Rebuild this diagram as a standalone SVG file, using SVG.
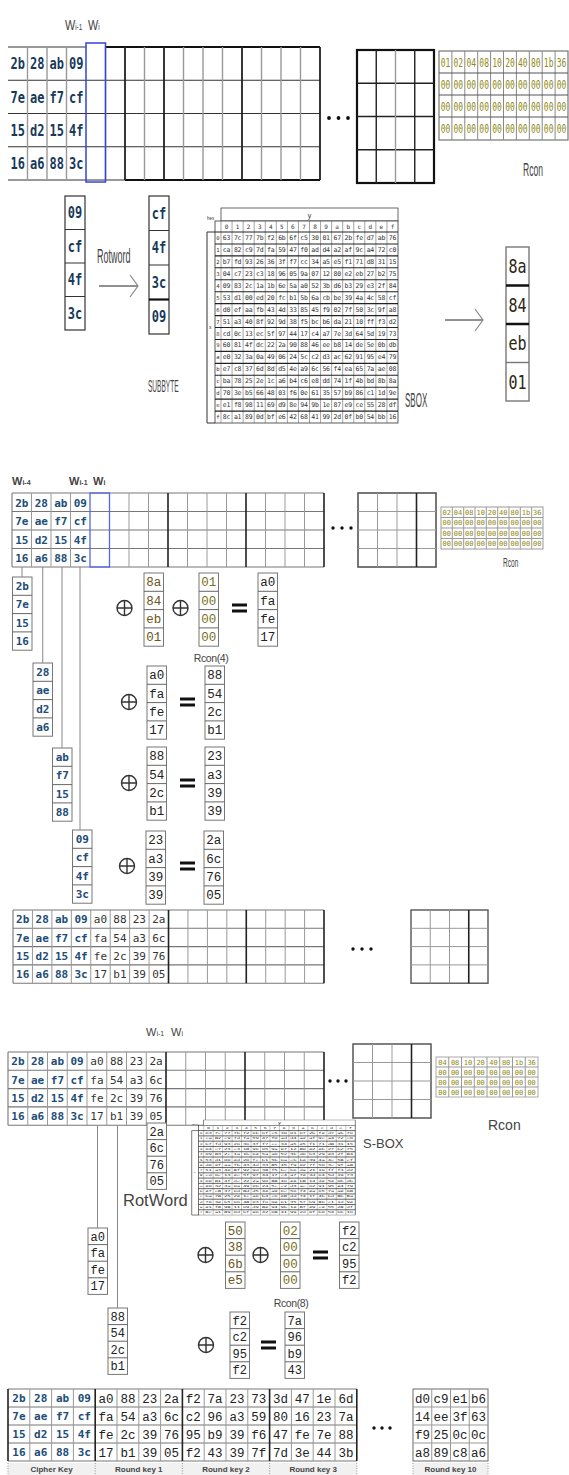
<svg xmlns="http://www.w3.org/2000/svg" width="569" height="1475" viewBox="0 0 569 1475">
<style>
.k1{font-family:"DejaVu Sans Mono",monospace;font-weight:bold;font-size:12px;fill:#17395a;text-anchor:middle}
.k{font-family:"DejaVu Sans Mono",monospace;font-weight:bold;font-size:11px;fill:#1d4d78;text-anchor:middle}
.d{font-family:"Liberation Mono",monospace;font-size:12.5px;fill:#222;text-anchor:middle}
.ds{font-family:"Liberation Mono",monospace;font-size:12px;fill:#222;text-anchor:middle}
.dg{font-family:"DejaVu Sans Mono",monospace;font-size:11px;fill:#333;text-anchor:middle}
.o1{font-family:"Liberation Mono",monospace;font-size:12.5px;fill:#6a5418;text-anchor:middle}
.o2{font-family:"Liberation Mono",monospace;font-size:12.5px;fill:#77701e;text-anchor:middle}
.rc{font-family:"DejaVu Sans Mono",monospace;fill:#8f8a14;text-anchor:middle}
.lbl{font-family:"Liberation Sans",Arial,sans-serif;fill:#444}
.bx{fill:#fff;stroke:#777;stroke-width:1}
.bx1{fill:#fff;stroke:#333;stroke-width:1.2}
.ln{fill:none;stroke:#999;stroke-width:1}
.lm{fill:none;stroke:#666;stroke-width:1}
.dk{fill:none;stroke:#222;stroke-width:1.6}
.cn{fill:none;stroke:#888;stroke-width:1}
</style>
<defs>
<marker id="chev" markerWidth="10" markerHeight="24" refX="9" refY="12" orient="auto" markerUnits="userSpaceOnUse"><path d="M1 1L9 12L1 23" fill="none" stroke="#888" stroke-width="1.2"/></marker>
<g id="xor"><circle r="7.5" fill="none" stroke="#333" stroke-width="1.4"/><path d="M-7.5 0H7.5M0-7.5V7.5" stroke="#333" stroke-width="1.4"/></g>
<g id="eq"><rect x="-7.5" y="-4.5" width="15" height="3" fill="#111"/><rect x="-7.5" y="1.5" width="15" height="3" fill="#111"/></g>
<g id="c2"><rect width="19.5" height="73.2" class="bx"/><path d="M0 18.3h19.5M0 36.6h19.5M0 54.9h19.5" class="lm"/></g>
<g id="c3"><rect width="19.5" height="66.4" class="bx"/><path d="M0 16.6h19.5M0 33.2h19.5M0 49.8h19.5" class="lm"/></g>
<g id="sbox">
<rect x="16" y="0" width="177" height="13" fill="#fff" stroke="#444" stroke-width="0.8"/>
<rect x="10" y="13" width="183" height="202" fill="#fff" stroke="#333" stroke-width="0.8"/>
<text x="104.5" y="9.5" font-size="7" text-anchor="middle" font-family="Liberation Sans" fill="#333">y</text>
<text x="2" y="12" font-size="4.5" font-family="Liberation Sans" fill="#333">hex</text>
<text x="4" y="121" font-size="5" font-family="Liberation Sans" fill="#333">x</text>
<path d="M10 24H2V215H10" fill="none" stroke="#333" stroke-width="1"/>
<path d="M16 13V215M27.06 13V215M38.13 13V215M49.19 13V215M60.25 13V215M71.31 13V215M82.38 13V215M93.44 13V215M104.5 13V215M115.56 13V215M126.63 13V215M137.69 13V215M148.75 13V215M159.81 13V215M170.88 13V215M181.94 13V215" fill="none" stroke="#666" stroke-width="0.6"/>
<path d="M10 24H193M10 35.94H193M10 47.88H193M10 59.82H193M10 71.76H193M10 83.7H193M10 95.64H193M10 107.58H193M10 119.52H193M10 131.46H193M10 143.4H193M10 155.34H193M10 167.28H193M10 179.22H193M10 191.16H193M10 203.1H193" fill="none" stroke="#222" stroke-width="1.1"/>
<text x="19.73" y="21" font-size="6" letter-spacing="7.45" font-family="DejaVu Sans Mono" fill="#333">0123456789abcdef</text>
<text font-size="5.5" text-anchor="middle" font-family="DejaVu Sans Mono" fill="#333"><tspan x="13" y="32">0</tspan><tspan x="13" y="43.94">1</tspan><tspan x="13" y="55.88">2</tspan><tspan x="13" y="67.82">3</tspan><tspan x="13" y="79.76">4</tspan><tspan x="13" y="91.7">5</tspan><tspan x="13" y="103.64">6</tspan><tspan x="13" y="115.58">7</tspan><tspan x="13" y="127.52">8</tspan><tspan x="13" y="139.46">9</tspan><tspan x="13" y="151.4">a</tspan><tspan x="13" y="163.34">b</tspan><tspan x="13" y="175.28">c</tspan><tspan x="13" y="187.22">d</tspan><tspan x="13" y="199.16">e</tspan><tspan x="13" y="211.1">f</tspan></text>
<text font-size="6.5" letter-spacing="-0.226" font-family="DejaVu Sans Mono" fill="#333"><tspan x="17.84" y="32">63 7c 77 7b f2 6b 6f c5 30 01 67 2b fe d7 ab 76</tspan><tspan x="17.84" y="43.94">ca 82 c9 7d fa 59 47 f0 ad d4 a2 af 9c a4 72 c0</tspan><tspan x="17.84" y="55.88">b7 fd 93 26 36 3f f7 cc 34 a5 e5 f1 71 d8 31 15</tspan><tspan x="17.84" y="67.82">04 c7 23 c3 18 96 05 9a 07 12 80 e2 eb 27 b2 75</tspan><tspan x="17.84" y="79.76">09 83 2c 1a 1b 6e 5a a0 52 3b d6 b3 29 e3 2f 84</tspan><tspan x="17.84" y="91.7">53 d1 00 ed 20 fc b1 5b 6a cb be 39 4a 4c 58 cf</tspan><tspan x="17.84" y="103.64">d0 ef aa fb 43 4d 33 85 45 f9 02 7f 50 3c 9f a8</tspan><tspan x="17.84" y="115.58">51 a3 40 8f 92 9d 38 f5 bc b6 da 21 10 ff f3 d2</tspan><tspan x="17.84" y="127.52">cd 0c 13 ec 5f 97 44 17 c4 a7 7e 3d 64 5d 19 73</tspan><tspan x="17.84" y="139.46">60 81 4f dc 22 2a 90 88 46 ee b8 14 de 5e 0b db</tspan><tspan x="17.84" y="151.4">e0 32 3a 0a 49 06 24 5c c2 d3 ac 62 91 95 e4 79</tspan><tspan x="17.84" y="163.34">e7 c8 37 6d 8d d5 4e a9 6c 56 f4 ea 65 7a ae 08</tspan><tspan x="17.84" y="175.28">ba 78 25 2e 1c a6 b4 c6 e8 dd 74 1f 4b bd 8b 8a</tspan><tspan x="17.84" y="187.22">70 3e b5 66 48 03 f6 0e 61 35 57 b9 86 c1 1d 9e</tspan><tspan x="17.84" y="199.16">e1 f8 98 11 69 d9 8e 94 9b 1e 87 e9 ce 55 28 df</tspan><tspan x="17.84" y="211.1">8c a1 89 0d bf e6 42 68 41 99 2d 0f b0 54 bb 16</tspan></text>
</g>
</defs>
<rect width="569" height="1475" fill="#fff"/>

<!-- ============ SECTION 1 ============ -->
<g id="s1-labels">
<text class="lbl" fill="#333" font-size="15" transform="translate(65,30) scale(0.72,1)">W<tspan font-size="9">i-1</tspan></text>
<text class="lbl" fill="#333" font-size="15" transform="translate(88,30) scale(0.72,1)">W<tspan font-size="9">i</tspan></text>
</g>
<g id="s1-grid">
<path d="M8 80.25H320M8 113.5H320M8 146.75H320M8 47H86M8 180H125" fill="none" stroke="#333" stroke-width="1.2"/>
<path d="M105.5 47H320M125 180H320" fill="none" stroke="#111" stroke-width="2"/>
<path d="M27.5 47V180M47 47V180M66.5 47V180M105.5 47V180M144.5 47V180M183.5 47V180M203 47V180M222.5 47V180M261.5 47V180M281 47V180M300.5 47V180" fill="none" stroke="#999" stroke-width="1.4"/>
<path d="M125 47V180M164 47V180M242 47V180M320 47V180" fill="none" stroke="#222" stroke-width="1.8"/>
<rect x="86" y="43" width="19.5" height="139" fill="none" stroke="#3344dd" stroke-width="1.5"/>
<text class="k1" transform="scale(1,1.3)" y="53.3"><tspan x="17.75">2b</tspan><tspan x="37.25">28</tspan><tspan x="56.75">ab</tspan><tspan x="76.25">09</tspan></text>
<text class="k1" transform="scale(1,1.3)" y="78.9"><tspan x="17.75">7e</tspan><tspan x="37.25">ae</tspan><tspan x="56.75">f7</tspan><tspan x="76.25">cf</tspan></text>
<text class="k1" transform="scale(1,1.3)" y="104.5"><tspan x="17.75">15</tspan><tspan x="37.25">d2</tspan><tspan x="56.75">15</tspan><tspan x="76.25">4f</tspan></text>
<text class="k1" transform="scale(1,1.3)" y="130.1"><tspan x="17.75">16</tspan><tspan x="37.25">a6</tspan><tspan x="56.75">88</tspan><tspan x="76.25">3c</tspan></text>
</g>
<g id="s1-dots" fill="#111"><circle cx="329" cy="118" r="1.9"/><circle cx="338.5" cy="118" r="1.9"/><circle cx="348" cy="118" r="1.9"/></g>
<g id="s1-grid2">
<rect x="357" y="50" width="77" height="133" fill="none" stroke="#111" stroke-width="2.2"/>
<path d="M357 83.25H434M357 116.5H434M357 149.75H434M376.25 50V183M414.75 50V183" fill="none" stroke="#222" stroke-width="1.4"/>
<path d="M395.5 50V183" fill="none" stroke="#999" stroke-width="1.4"/>
</g>
<g id="s1-rcon">
<rect x="439" y="51" width="129" height="89" fill="#fff" stroke="#777" stroke-width="1.2"/>
<path d="M451.9 51V140M464.8 51V140M477.7 51V140M490.6 51V140M503.5 51V140M516.4 51V140M529.3 51V140M542.2 51V140M555.1 51V140" fill="none" stroke="#888" stroke-width="1"/>
<path d="M439 73H568M439 95H568M439 117H568" fill="none" stroke="#555" stroke-width="1.2"/>
<text class="rc" font-size="8" transform="scale(1,1.6)" y="41.7"><tspan x="445.45">01</tspan><tspan x="458.35">02</tspan><tspan x="471.25">04</tspan><tspan x="484.15">08</tspan><tspan x="497.05">10</tspan><tspan x="509.95">20</tspan><tspan x="522.85">40</tspan><tspan x="535.75">80</tspan><tspan x="548.65">1b</tspan><tspan x="561.55">36</tspan></text>
<text class="rc" font-size="8" transform="scale(1,1.6)" y="55.4"><tspan x="445.45">00</tspan><tspan x="458.35">00</tspan><tspan x="471.25">00</tspan><tspan x="484.15">00</tspan><tspan x="497.05">00</tspan><tspan x="509.95">00</tspan><tspan x="522.85">00</tspan><tspan x="535.75">00</tspan><tspan x="548.65">00</tspan><tspan x="561.55">00</tspan></text>
<text class="rc" font-size="8" transform="scale(1,1.6)" y="69.2"><tspan x="445.45">00</tspan><tspan x="458.35">00</tspan><tspan x="471.25">00</tspan><tspan x="484.15">00</tspan><tspan x="497.05">00</tspan><tspan x="509.95">00</tspan><tspan x="522.85">00</tspan><tspan x="535.75">00</tspan><tspan x="548.65">00</tspan><tspan x="561.55">00</tspan></text>
<text class="rc" font-size="8" transform="scale(1,1.6)" y="83.25"><tspan x="445.45">00</tspan><tspan x="458.35">00</tspan><tspan x="471.25">00</tspan><tspan x="484.15">00</tspan><tspan x="497.05">00</tspan><tspan x="509.95">00</tspan><tspan x="522.85">00</tspan><tspan x="535.75">00</tspan><tspan x="548.65">00</tspan><tspan x="561.55">00</tspan></text>
<text class="lbl" fill="#666" font-size="19" transform="translate(523,176) scale(0.45,1)">Rcon</text>
</g>
<g id="s1-wordA">
<rect x="65" y="196" width="20" height="134" class="bx1"/>
<path d="M65 229.5H85M65 263H85M65 296.5H85" fill="none" stroke="#333" stroke-width="1.2"/>
<text class="k1" transform="scale(1,1.3)"><tspan x="75" y="168">09</tspan><tspan x="75" y="193.8">cf</tspan><tspan x="75" y="219.6">4f</tspan><tspan x="75" y="245.3">3c</tspan></text>
</g>
<g id="s1-rotword-label"><text class="lbl" fill="#555" font-size="20" transform="translate(97,263) scale(0.45,1)">Rotword</text></g>
<g id="s1-wordB">
<rect x="149" y="196" width="20" height="138" class="bx1"/>
<path d="M149 230.5H169M149 265H169" fill="none" stroke="#333" stroke-width="1.2"/>
<path d="M149 299.5H169" fill="none" stroke="#111" stroke-width="2.2"/>
<text class="k1" transform="scale(1,1.3)"><tspan x="159" y="168.4">cf</tspan><tspan x="159" y="195">4f</tspan><tspan x="159" y="221.5">3c</tspan><tspan x="159" y="248">09</tspan></text>
</g>
<g id="s1-sbox"><use href="#sbox" transform="translate(205,208)"/></g>
<g id="s1-subbyte-label"><text class="lbl" fill="#555" font-size="16" transform="translate(148,392) scale(0.41,1)">SUBBYTE</text></g>
<g id="s1-sbox-label"><text class="lbl" fill="#555" font-size="20" transform="translate(405,407) scale(0.4,1)">SBOX</text></g>
<g id="s1-wordC">
<rect x="506" y="247" width="23" height="154" fill="#fff" stroke="#777" stroke-width="1.4"/>
<path d="M506 285.5H529M506 324H529" fill="none" stroke="#111" stroke-width="2.4"/>
<path d="M506 362.5H529" fill="none" stroke="#777" stroke-width="1.4"/>
<text font-family="DejaVu Sans Mono,monospace" font-size="15" fill="#2c2612" text-anchor="middle" transform="scale(1,1.3)"><tspan x="517.5" y="210.2">8a</tspan><tspan x="517.5" y="239.8">84</tspan><tspan x="517.5" y="269.4">eb</tspan><tspan x="517.5" y="299">01</tspan></text>
</g>

<!-- ============ SECTION 2 ============ -->
<g id="s2-labels" font-weight="bold">
<text class="lbl" fill="#333" font-size="11" x="12" y="485">W<tspan font-size="7">i-4</tspan></text>
<text class="lbl" fill="#333" font-size="11" x="69" y="485">W<tspan font-size="7">i-1</tspan></text>
<text class="lbl" fill="#333" font-size="11" x="93" y="485">W<tspan font-size="7">i</tspan></text>
</g>
<g id="s2-grid">
<path d="M12 493H324M12 511.5H324M12 530H324M12 548.5H324M12 567H324M12 493V567" fill="none" stroke="#777" stroke-width="1.1"/>
<path d="M31.5 493V567M51 493V567M70.5 493V567M109.5 493V567M129 493V567M148.5 493V567M187.5 493V567M207 493V567M226.5 493V567M265.5 493V567M285 493V567M304.5 493V567" class="ln"/>
<path d="M168 493V567M246 493V567M324 493V567" class="dk"/>
<rect x="90" y="493" width="19.5" height="74" fill="none" stroke="#5566ee" stroke-width="1.3"/>
<text class="k" y="506.5"><tspan x="21.75">2b</tspan><tspan x="41.25">28</tspan><tspan x="60.75">ab</tspan><tspan x="80.25">09</tspan></text>
<text class="k" y="525"><tspan x="21.75">7e</tspan><tspan x="41.25">ae</tspan><tspan x="60.75">f7</tspan><tspan x="80.25">cf</tspan></text>
<text class="k" y="543.5"><tspan x="21.75">15</tspan><tspan x="41.25">d2</tspan><tspan x="60.75">15</tspan><tspan x="80.25">4f</tspan></text>
<text class="k" y="562"><tspan x="21.75">16</tspan><tspan x="41.25">a6</tspan><tspan x="60.75">88</tspan><tspan x="80.25">3c</tspan></text>
</g>
<g id="s2-dots" fill="#111"><circle cx="333" cy="528" r="1.7"/><circle cx="342" cy="528" r="1.7"/><circle cx="351" cy="528" r="1.7"/></g>
<g id="s2-grid2">
<rect x="358" y="493" width="78" height="74" fill="none" stroke="#555" stroke-width="1.6"/>
<path d="M358 511.5H436M358 530H436M358 548.5H436M377.5 493V567M397 493V567" class="ln"/>
<path d="M416.5 493V567" class="dk"/>
</g>
<g id="s2-rcon">
<rect x="441" y="507" width="102" height="42" fill="#fff" stroke="#999" stroke-width="1"/>
<path d="M452.3 507V549M463.7 507V549M475 507V549M486.3 507V549M497.7 507V549M509 507V549M520.3 507V549M531.7 507V549M441 517.5H543M441 528H543M441 538.5H543" class="ln"/>
<text class="rc" font-size="7" y="514.8"><tspan x="446.67">02</tspan><tspan x="458">04</tspan><tspan x="469.33">08</tspan><tspan x="480.67">10</tspan><tspan x="492">20</tspan><tspan x="503.33">40</tspan><tspan x="514.67">80</tspan><tspan x="526">1b</tspan><tspan x="537.33">36</tspan></text>
<text class="rc" font-size="7" y="525.3"><tspan x="446.67">00</tspan><tspan x="458">00</tspan><tspan x="469.33">00</tspan><tspan x="480.67">00</tspan><tspan x="492">00</tspan><tspan x="503.33">00</tspan><tspan x="514.67">00</tspan><tspan x="526">00</tspan><tspan x="537.33">00</tspan></text>
<text class="rc" font-size="7" y="535.8"><tspan x="446.67">00</tspan><tspan x="458">00</tspan><tspan x="469.33">00</tspan><tspan x="480.67">00</tspan><tspan x="492">00</tspan><tspan x="503.33">00</tspan><tspan x="514.67">00</tspan><tspan x="526">00</tspan><tspan x="537.33">00</tspan></text>
<text class="rc" font-size="7" y="546.3"><tspan x="446.67">00</tspan><tspan x="458">00</tspan><tspan x="469.33">00</tspan><tspan x="480.67">00</tspan><tspan x="492">00</tspan><tspan x="503.33">00</tspan><tspan x="514.67">00</tspan><tspan x="526">00</tspan><tspan x="537.33">00</tspan></text>
<text class="lbl" fill="#888" font-size="12" transform="translate(503,567) scale(0.55,1)">Rcon</text>
</g>
<g id="s2-K0"><use href="#c2" x="12.5" y="577"/><text class="k"><tspan x="22.25" y="590">2b</tspan><tspan x="22.25" y="608.3">7e</tspan><tspan x="22.25" y="626.6">15</tspan><tspan x="22.25" y="644.9">16</tspan></text></g>
<g id="s2-K1"><use href="#c2" x="33" y="663"/><text class="k"><tspan x="42.75" y="676">28</tspan><tspan x="42.75" y="694.3">ae</tspan><tspan x="42.75" y="712.6">d2</tspan><tspan x="42.75" y="730.9">a6</tspan></text></g>
<g id="s2-K2"><use href="#c2" x="52.5" y="748"/><text class="k"><tspan x="62.25" y="761">ab</tspan><tspan x="62.25" y="779.3">f7</tspan><tspan x="62.25" y="797.6">15</tspan><tspan x="62.25" y="815.9">88</tspan></text></g>
<g id="s2-K3"><use href="#c2" x="72.5" y="830"/><text class="k"><tspan x="82.25" y="843">09</tspan><tspan x="82.25" y="861.3">cf</tspan><tspan x="82.25" y="879.6">4f</tspan><tspan x="82.25" y="897.9">3c</tspan></text></g>
<g id="s2-eq1">
<use href="#xor" x="124.5" y="608"/>
<use href="#c2" x="144" y="573"/><text class="o1"><tspan x="153.75" y="586.2">8a</tspan><tspan x="153.75" y="604.5">84</tspan><tspan x="153.75" y="622.8">eb</tspan><tspan x="153.75" y="641.1">01</tspan></text>
<use href="#xor" x="180.5" y="608"/>
<use href="#c2" x="199" y="573"/><text class="o2"><tspan x="208.75" y="586.2">01</tspan><tspan x="208.75" y="604.5">00</tspan><tspan x="208.75" y="622.8">00</tspan><tspan x="208.75" y="641.1">00</tspan></text>
<use href="#eq" x="239.5" y="608"/>
<use href="#c2" x="258" y="573"/><text class="d"><tspan x="267.75" y="586.2">a0</tspan><tspan x="267.75" y="604.5">fa</tspan><tspan x="267.75" y="622.8">fe</tspan><tspan x="267.75" y="641.1">17</tspan></text>
<text class="lbl" fill="#222" font-size="10.5" x="211" y="662" text-anchor="middle" letter-spacing="-0.4">Rcon(4)</text>
</g>
<g id="s2-eq2">
<use href="#xor" x="129" y="702"/>
<use href="#c2" x="147" y="666"/><text class="d"><tspan x="156.75" y="679.2">a0</tspan><tspan x="156.75" y="697.5">fa</tspan><tspan x="156.75" y="715.8">fe</tspan><tspan x="156.75" y="734.1">17</tspan></text>
<use href="#eq" x="187.5" y="702"/>
<use href="#c2" x="205" y="666"/><text class="d"><tspan x="214.75" y="679.2">88</tspan><tspan x="214.75" y="697.5">54</tspan><tspan x="214.75" y="715.8">2c</tspan><tspan x="214.75" y="734.1">b1</tspan></text>
</g>
<g id="s2-eq3">
<use href="#xor" x="129" y="783"/>
<use href="#c2" x="147" y="747"/><text class="d"><tspan x="156.75" y="760.2">88</tspan><tspan x="156.75" y="778.5">54</tspan><tspan x="156.75" y="796.8">2c</tspan><tspan x="156.75" y="815.1">b1</tspan></text>
<use href="#eq" x="187.5" y="783"/>
<use href="#c2" x="205" y="747"/><text class="d"><tspan x="214.75" y="760.2">23</tspan><tspan x="214.75" y="778.5">a3</tspan><tspan x="214.75" y="796.8">39</tspan><tspan x="214.75" y="815.1">39</tspan></text>
</g>
<g id="s2-eq4">
<use href="#xor" x="127" y="866"/>
<use href="#c2" x="146" y="831"/><text class="d"><tspan x="155.75" y="844.2">23</tspan><tspan x="155.75" y="862.5">a3</tspan><tspan x="155.75" y="880.8">39</tspan><tspan x="155.75" y="899.1">39</tspan></text>
<use href="#eq" x="187.5" y="866"/>
<use href="#c2" x="204" y="831"/><text class="d"><tspan x="213.75" y="844.2">2a</tspan><tspan x="213.75" y="862.5">6c</tspan><tspan x="213.75" y="880.8">76</tspan><tspan x="213.75" y="899.1">05</tspan></text>
</g>
<g id="s2-result-grid">
<path d="M13 910H324M13 928.3H324M13 946.6H324M13 964.9H324M13 983.2H324M13 910V983.2" fill="none" stroke="#777" stroke-width="1.1"/>
<path d="M32.44 910V983.2M51.88 910V983.2M71.32 910V983.2M90.76 910V983.2M110.2 910V983.2M129.64 910V983.2M149.08 910V983.2M187.96 910V983.2M207.4 910V983.2M226.84 910V983.2M265.72 910V983.2M285.16 910V983.2M304.6 910V983.2" class="ln"/>
<path d="M168.52 910V983.2M246.28 910V983.2M324 910V983.2" class="dk"/>
<text class="k" y="923.3"><tspan x="22.72">2b</tspan><tspan x="42.16">28</tspan><tspan x="61.6">ab</tspan><tspan x="81.04">09</tspan></text>
<text class="k" y="941.6"><tspan x="22.72">7e</tspan><tspan x="42.16">ae</tspan><tspan x="61.6">f7</tspan><tspan x="81.04">cf</tspan></text>
<text class="k" y="959.9"><tspan x="22.72">15</tspan><tspan x="42.16">d2</tspan><tspan x="61.6">15</tspan><tspan x="81.04">4f</tspan></text>
<text class="k" y="978.2"><tspan x="22.72">16</tspan><tspan x="42.16">a6</tspan><tspan x="61.6">88</tspan><tspan x="81.04">3c</tspan></text>
<text class="dg" y="923.3"><tspan x="100.48">a0</tspan><tspan x="119.92">88</tspan><tspan x="139.36">23</tspan><tspan x="158.8">2a</tspan></text>
<text class="dg" y="941.6"><tspan x="100.48">fa</tspan><tspan x="119.92">54</tspan><tspan x="139.36">a3</tspan><tspan x="158.8">6c</tspan></text>
<text class="dg" y="959.9"><tspan x="100.48">fe</tspan><tspan x="119.92">2c</tspan><tspan x="139.36">39</tspan><tspan x="158.8">76</tspan></text>
<text class="dg" y="978.2"><tspan x="100.48">17</tspan><tspan x="119.92">b1</tspan><tspan x="139.36">39</tspan><tspan x="158.8">05</tspan></text>
</g>
<g id="s2-dots2" fill="#111"><circle cx="353" cy="949" r="1.7"/><circle cx="362" cy="949" r="1.7"/><circle cx="371" cy="949" r="1.7"/></g>
<g id="s2-result-grid2">
<rect x="411" y="910" width="77" height="73.2" fill="none" stroke="#555" stroke-width="1.4"/>
<path d="M411 928.3H488M411 946.6H488M411 964.9H488M430.25 910V983.2M449.5 910V983.2" class="ln"/>
<path d="M468.75 910V983.2" class="dk"/>
</g>

<!-- ============ SECTION 3 ============ -->
<g id="s3-labels">
<text class="lbl" fill="#333" font-size="11" x="146" y="1036">W<tspan font-size="7">i-1</tspan></text>
<text class="lbl" fill="#333" font-size="11" x="171" y="1036">W<tspan font-size="7">i</tspan></text>
</g>
<g id="s3-grid">
<path d="M8 1052H324M8 1070.3H324M8 1088.6H324M8 1106.9H324M8 1125.2H324M8 1052V1125.2" fill="none" stroke="#777" stroke-width="1.1"/>
<path d="M27.75 1052V1125.2M47.5 1052V1125.2M67.25 1052V1125.2M87 1052V1125.2M106.75 1052V1125.2M126.5 1052V1125.2M146.25 1052V1125.2M185.75 1052V1125.2M205.5 1052V1125.2M225.25 1052V1125.2M264.75 1052V1125.2M284.5 1052V1125.2M304.25 1052V1125.2" class="ln"/>
<path d="M166 1052V1125.2M245 1052V1125.2M324 1052V1125.2" class="dk"/>
<text class="k" y="1065.3"><tspan x="17.9">2b</tspan><tspan x="37.6">28</tspan><tspan x="57.4">ab</tspan><tspan x="77.1">09</tspan></text>
<text class="k" y="1083.6"><tspan x="17.9">7e</tspan><tspan x="37.6">ae</tspan><tspan x="57.4">f7</tspan><tspan x="77.1">cf</tspan></text>
<text class="k" y="1101.9"><tspan x="17.9">15</tspan><tspan x="37.6">d2</tspan><tspan x="57.4">15</tspan><tspan x="77.1">4f</tspan></text>
<text class="k" y="1120.2"><tspan x="17.9">16</tspan><tspan x="37.6">a6</tspan><tspan x="57.4">88</tspan><tspan x="77.1">3c</tspan></text>
<text class="dg" y="1065.3"><tspan x="96.9">a0</tspan><tspan x="116.6">88</tspan><tspan x="136.4">23</tspan><tspan x="156.1">2a</tspan></text>
<text class="dg" y="1083.6"><tspan x="96.9">fa</tspan><tspan x="116.6">54</tspan><tspan x="136.4">a3</tspan><tspan x="156.1">6c</tspan></text>
<text class="dg" y="1101.9"><tspan x="96.9">fe</tspan><tspan x="116.6">2c</tspan><tspan x="136.4">39</tspan><tspan x="156.1">76</tspan></text>
<text class="dg" y="1120.2"><tspan x="96.9">17</tspan><tspan x="116.6">b1</tspan><tspan x="136.4">39</tspan><tspan x="156.1">05</tspan></text>
</g>
<g id="s3-dots" fill="#111"><circle cx="330" cy="1081" r="1.7"/><circle cx="338" cy="1081" r="1.7"/><circle cx="346" cy="1081" r="1.7"/></g>
<g id="s3-grid2">
<rect x="353" y="1044" width="78" height="74" fill="none" stroke="#555" stroke-width="1.5"/>
<path d="M353 1062.5H431M353 1081H431M353 1099.5H431M372.5 1044V1118M392 1044V1118" class="ln"/>
<path d="M411.5 1044V1118" class="dk"/>
</g>
<g id="s3-rcon">
<rect x="436" y="1057" width="102" height="40" fill="#fff" stroke="#aaa" stroke-width="1"/>
<path d="M448.75 1057V1097M461.5 1057V1097M474.25 1057V1097M487 1057V1097M499.75 1057V1097M512.5 1057V1097M525.25 1057V1097M436 1067H538M436 1077H538M436 1087H538" class="ln"/>
<text class="rc" font-size="7" y="1064.6"><tspan x="442.4">04</tspan><tspan x="455.1">08</tspan><tspan x="467.9">10</tspan><tspan x="480.6">20</tspan><tspan x="493.4">40</tspan><tspan x="506.1">80</tspan><tspan x="518.9">1b</tspan><tspan x="531.6">36</tspan></text>
<text class="rc" font-size="7" y="1074.6"><tspan x="442.4">00</tspan><tspan x="455.1">00</tspan><tspan x="467.9">00</tspan><tspan x="480.6">00</tspan><tspan x="493.4">00</tspan><tspan x="506.1">00</tspan><tspan x="518.9">00</tspan><tspan x="531.6">00</tspan></text>
<text class="rc" font-size="7" y="1084.6"><tspan x="442.4">00</tspan><tspan x="455.1">00</tspan><tspan x="467.9">00</tspan><tspan x="480.6">00</tspan><tspan x="493.4">00</tspan><tspan x="506.1">00</tspan><tspan x="518.9">00</tspan><tspan x="531.6">00</tspan></text>
<text class="rc" font-size="7" y="1094.6"><tspan x="442.4">00</tspan><tspan x="455.1">00</tspan><tspan x="467.9">00</tspan><tspan x="480.6">00</tspan><tspan x="493.4">00</tspan><tspan x="506.1">00</tspan><tspan x="518.9">00</tspan><tspan x="531.6">00</tspan></text>
<text class="lbl" fill="#999" font-size="14" x="488" y="1130">Rcon</text>
</g>
<g id="s3-rotword-col"><use href="#c3" x="147" y="1123"/><text class="ds"><tspan x="156.75" y="1135.5">2a</tspan><tspan x="156.75" y="1152.1">6c</tspan><tspan x="156.75" y="1168.7">76</tspan><tspan x="156.75" y="1185.3">05</tspan></text></g>
<g id="s3-rotword-label"><text class="lbl" fill="#a3a3a3" font-size="16.5" x="123" y="1206">RotWord</text></g>
<g id="s3-sbox"><use href="#sbox" transform="translate(190,1120) scale(0.856,0.442)"/></g>
<g id="s3-sbox-label"><text class="lbl" fill="#222" font-size="13" x="363" y="1148">S-BOX</text></g>
<g id="s3-W4"><use href="#c3" x="88" y="1228"/><text class="ds"><tspan x="97.75" y="1240.5">a0</tspan><tspan x="97.75" y="1257.1">fa</tspan><tspan x="97.75" y="1273.7">fe</tspan><tspan x="97.75" y="1290.3">17</tspan></text></g>
<g id="s3-W5"><use href="#c3" x="108" y="1308"/><text class="ds"><tspan x="117.75" y="1320.5">88</tspan><tspan x="117.75" y="1337.1">54</tspan><tspan x="117.75" y="1353.7">2c</tspan><tspan x="117.75" y="1370.3">b1</tspan></text></g>
<g id="s3-eq1">
<use href="#xor" x="205.5" y="1255"/>
<use href="#c3" x="225.5" y="1222"/><text class="o1" font-size="12"><tspan x="235.25" y="1234.5">50</tspan><tspan x="235.25" y="1251.1">38</tspan><tspan x="235.25" y="1267.7">6b</tspan><tspan x="235.25" y="1284.3">e5</tspan></text>
<use href="#xor" x="260.5" y="1255"/>
<use href="#c3" x="280.5" y="1222"/><text class="o2" font-size="12"><tspan x="290.25" y="1234.5">02</tspan><tspan x="290.25" y="1251.1">00</tspan><tspan x="290.25" y="1267.7">00</tspan><tspan x="290.25" y="1284.3">00</tspan></text>
<use href="#eq" x="320.5" y="1255"/>
<use href="#c3" x="339.5" y="1222"/><text class="ds"><tspan x="349.25" y="1234.5">f2</tspan><tspan x="349.25" y="1251.1">c2</tspan><tspan x="349.25" y="1267.7">95</tspan><tspan x="349.25" y="1284.3">f2</tspan></text>
<text class="lbl" fill="#222" font-size="10.5" x="291" y="1307" text-anchor="middle" letter-spacing="-0.4">Rcon(8)</text>
</g>
<g id="s3-eq2">
<use href="#xor" x="206" y="1345"/>
<use href="#c3" x="230" y="1312"/><text class="ds"><tspan x="239.75" y="1324.5">f2</tspan><tspan x="239.75" y="1341.1">c2</tspan><tspan x="239.75" y="1357.7">95</tspan><tspan x="239.75" y="1374.3">f2</tspan></text>
<use href="#eq" x="268.5" y="1345"/>
<use href="#c3" x="285" y="1312"/><text class="ds"><tspan x="294.75" y="1324.5">7a</tspan><tspan x="294.75" y="1341.1">96</tspan><tspan x="294.75" y="1357.7">b9</tspan><tspan x="294.75" y="1374.3">43</tspan></text>
</g>
<g id="s3-keys">
<path d="M8 1389H356.8M8 1407H356.8M8 1425H356.8M8 1443H356.8M8 1461H356.8" fill="none" stroke="#777" stroke-width="1.1"/>
<path d="M29.8 1389V1461M51.6 1389V1461M73.4 1389V1461M117 1389V1461M138.8 1389V1461M160.6 1389V1461M204.2 1389V1461M226 1389V1461M247.8 1389V1461M291.4 1389V1461M313.2 1389V1461M335 1389V1461" class="ln"/>
<path d="M8 1389V1461M95.2 1389V1461M182.4 1389V1461M269.6 1389V1461M356.8 1389V1461" class="dk" stroke-width="1.3"/>
<text class="k" y="1402.3"><tspan x="18.9">2b</tspan><tspan x="40.7">28</tspan><tspan x="62.5">ab</tspan><tspan x="84.3">09</tspan></text>
<text class="k" y="1420.3"><tspan x="18.9">7e</tspan><tspan x="40.7">ae</tspan><tspan x="62.5">f7</tspan><tspan x="84.3">cf</tspan></text>
<text class="k" y="1438.3"><tspan x="18.9">15</tspan><tspan x="40.7">d2</tspan><tspan x="62.5">15</tspan><tspan x="84.3">4f</tspan></text>
<text class="k" y="1456.3"><tspan x="18.9">16</tspan><tspan x="40.7">a6</tspan><tspan x="62.5">88</tspan><tspan x="84.3">3c</tspan></text>
<text class="d" y="1402.5"><tspan x="106.1">a0</tspan><tspan x="127.9">88</tspan><tspan x="149.7">23</tspan><tspan x="171.5">2a</tspan><tspan x="193.3">f2</tspan><tspan x="215.1">7a</tspan><tspan x="236.9">23</tspan><tspan x="258.7">73</tspan><tspan x="280.5">3d</tspan><tspan x="302.3">47</tspan><tspan x="324.1">1e</tspan><tspan x="345.9">6d</tspan></text>
<text class="d" y="1420.5"><tspan x="106.1">fa</tspan><tspan x="127.9">54</tspan><tspan x="149.7">a3</tspan><tspan x="171.5">6c</tspan><tspan x="193.3">c2</tspan><tspan x="215.1">96</tspan><tspan x="236.9">a3</tspan><tspan x="258.7">59</tspan><tspan x="280.5">80</tspan><tspan x="302.3">16</tspan><tspan x="324.1">23</tspan><tspan x="345.9">7a</tspan></text>
<text class="d" y="1438.5"><tspan x="106.1">fe</tspan><tspan x="127.9">2c</tspan><tspan x="149.7">39</tspan><tspan x="171.5">76</tspan><tspan x="193.3">95</tspan><tspan x="215.1">b9</tspan><tspan x="236.9">39</tspan><tspan x="258.7">f6</tspan><tspan x="280.5">47</tspan><tspan x="302.3">fe</tspan><tspan x="324.1">7e</tspan><tspan x="345.9">88</tspan></text>
<text class="d" y="1456.5"><tspan x="106.1">17</tspan><tspan x="127.9">b1</tspan><tspan x="149.7">39</tspan><tspan x="171.5">05</tspan><tspan x="193.3">f2</tspan><tspan x="215.1">43</tspan><tspan x="236.9">39</tspan><tspan x="258.7">7f</tspan><tspan x="280.5">7d</tspan><tspan x="302.3">3e</tspan><tspan x="324.1">44</tspan><tspan x="345.9">3b</tspan></text>
</g>
<g id="s3-dots2" fill="#111"><circle cx="374" cy="1428" r="1.7"/><circle cx="382" cy="1428" r="1.7"/><circle cx="390" cy="1428" r="1.7"/></g>
<g id="s3-key10">
<rect x="413" y="1389" width="75" height="72" fill="none" stroke="#777" stroke-width="1.1"/>
<path d="M413 1407H488M413 1425H488M413 1443H488M431.75 1389V1461M450.5 1389V1461M469.25 1389V1461" class="ln"/>
<text class="d" y="1402.5"><tspan x="422.4">d0</tspan><tspan x="441.1">c9</tspan><tspan x="459.9">e1</tspan><tspan x="478.6">b6</tspan></text>
<text class="d" y="1420.5"><tspan x="422.4">14</tspan><tspan x="441.1">ee</tspan><tspan x="459.9">3f</tspan><tspan x="478.6">63</tspan></text>
<text class="d" y="1438.5"><tspan x="422.4">f9</tspan><tspan x="441.1">25</tspan><tspan x="459.9">0c</tspan><tspan x="478.6">0c</tspan></text>
<text class="d" y="1456.5"><tspan x="422.4">a8</tspan><tspan x="441.1">89</tspan><tspan x="459.9">c8</tspan><tspan x="478.6">a6</tspan></text>
</g>
<g id="s3-captions">
<rect x="8" y="1463" width="349" height="12" fill="#f1f1f1"/>
<rect x="413" y="1463" width="75" height="12" fill="#f1f1f1"/>
<path d="M8 1463V1475M95.2 1463V1475M182.4 1463V1475M269.6 1463V1475M356.8 1463V1475M413 1463V1475M488 1463V1475" fill="none" stroke="#999" stroke-width="1" stroke-dasharray="1,1.5"/>
<g class="lbl" fill="#333" font-size="8" font-weight="bold" text-anchor="middle">
<text x="51.6" y="1472">Cipher Key</text>
<text x="138.8" y="1472">Round key 1</text>
<text x="226" y="1472">Round key 2</text>
<text x="313.2" y="1472">Round key 3</text>
<text x="450.5" y="1472">Round key 10</text>
</g>
</g>

<!-- ============ CONNECTORS ============ -->
<g id="connectors">
<line x1="99" y1="286" x2="138" y2="286" stroke="#222" stroke-width="1" marker-end="url(#chev)"/>
<line x1="445" y1="320" x2="483" y2="320" stroke="#222" stroke-width="1" marker-end="url(#chev)"/>
<path d="M22 567V577M42.75 567V663M62 567V748M80 567V830" class="cn"/>
<path d="M97.5 1125.2V1228M117.5 1125.2V1308" class="cn"/>
</g>
</svg>
